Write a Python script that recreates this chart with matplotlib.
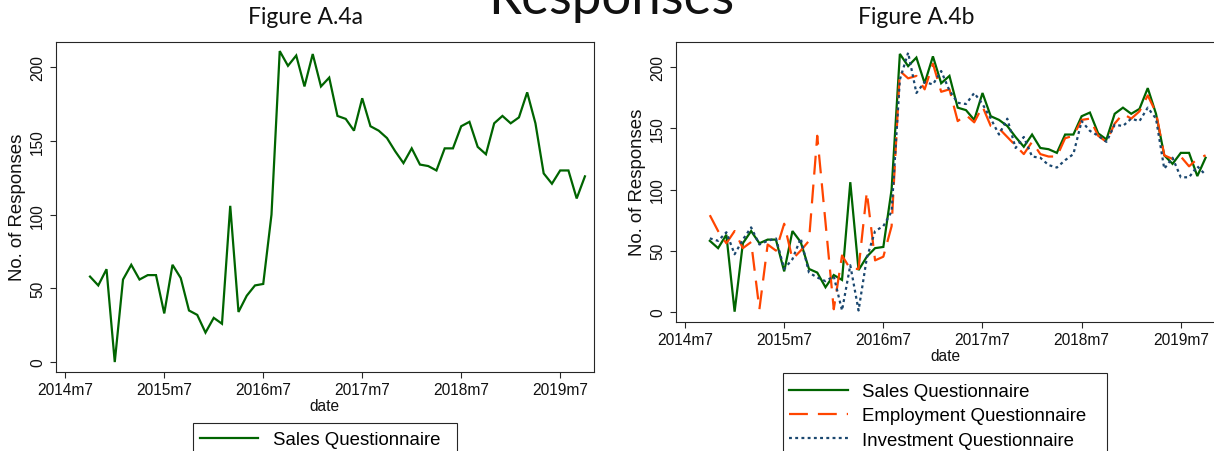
import numpy as np
import pandas as pd
import matplotlib
matplotlib.use("Agg")
import matplotlib.pyplot as plt
from matplotlib.patches import Rectangle

# ---------------- data ----------------
start_month = "2014-10"
end_month = "2019-10"
sales = [58, 52, 63, 0, 56, 66, 56, 59, 59, 33,
         66, 57, 35, 32, 20, 30, 26, 106, 34, 45,
         52, 53, 100, 211, 201, 208, 187, 209, 187, 193,
         167, 165, 157, 179, 160, 157, 152, 143, 135, 145,
         134, 133, 130, 145, 145, 160, 163, 146, 141, 162,
         167, 162, 166, 183, 162, 128, 121, 130, 130, 111, 126]
employment = [79, 66, 56, 66, 52, 57, 2, 55, 50, 72,
              43, 50, 58, 144, 73, 2, 46, 35, 35, 98,
              42, 45, 70, 197, 191, 193, 182, 203, 180, 182,
              156, 161, 155, 168, 152, 150, 143, 136, 129, 139,
              129, 127, 127, 142, 144, 157, 158, 144, 139, 154,
              162, 158, 164, 177, 163, 128, 125, 127, 119, 125, 128]
investment = [60, 58, 65, 47, 59, 69, 55, 58, 60, 35,
              43, 60, 32, 28, 25, 29, 1, 38, 1, 44,
              66, 70, 82, 190, 212, 179, 188, 186, 197, 181,
              171, 170, 179, 170, 158, 145, 158, 134, 143, 127,
              126, 120, 118, 124, 129, 156, 148, 144, 139, 153,
              152, 158, 156, 167, 158, 117, 126, 110, 110, 119, 112]
tick_labels = ["2014m7", "2015m7", "2016m7", "2017m7", "2018m7", "2019m7"]
y_ticks = [0, 50, 100, 150, 200]
series_names = ["Sales Questionnaire", "Employment Questionnaire", "Investment Questionnaire"]

# months as integer offsets from 2014m7
months = pd.period_range(start_month, end_month, freq="M")
x = np.array(months.year * 12 + months.month - (2014 * 12 + 7))
tick_pos = [int(t[:4]) * 12 + int(t[5:]) - (2014 * 12 + 7) for t in tick_labels]

# ---------------- style ----------------
plt.rcParams["font.family"] = ["Liberation Sans", "DejaVu Sans"]
GREEN = "#006400"
ORANGE = "#ff4500"
NAVY = "#1a476f"
FRAME = "#262626"
LW = 1.6

W, H = 1214, 452
fig = plt.figure(figsize=(W / 100, H / 100), dpi=100)
fig.patch.set_facecolor("white")


def px_axes(l, t, r, b):
    return [l / W, 1 - b / H, (r - l) / W, (b - t) / H]


ax1 = fig.add_axes(px_axes(55.7, 42.5, 594, 372.5))
ax2 = fig.add_axes(px_axes(675.7, 42.7, 1215.5, 322.7))

l_sales1, = ax1.plot(x, sales, color=GREEN, lw=LW, solid_joinstyle="miter")
l_sales2, = ax2.plot(x, sales, color=GREEN, lw=LW, solid_joinstyle="miter")
l_emp, = ax2.plot(x, employment, color=ORANGE, lw=LW, linestyle=(0, (8.5, 4.5)))
l_inv, = ax2.plot(x, investment, color=NAVY, lw=LW, linestyle=(0, (1.3, 1.5)))

ax1.set_xlim(-1.16, 64.1)
ax1.set_ylim(-6.4, 217.5)
ax2.set_xlim(-1.13, 64.2)
ax2.set_ylim(-8.2, 221)

for ax in (ax1, ax2):
    ax.set_xticks(tick_pos)
    ax.set_xticklabels(tick_labels)
    ax.set_yticks(y_ticks)
    ax.set_yticklabels([str(v) for v in y_ticks], rotation=90, va="center")
    ax.tick_params(axis="both", direction="out", length=4.6, width=0.8,
                   color=FRAME, labelsize=11.2, labelcolor="#111111")
    ax.tick_params(axis="x", pad=3)
    ax.tick_params(axis="y", pad=3)
    for s in ax.spines.values():
        s.set_color(FRAME)
        s.set_linewidth(0.8)
    ax.set_xlabel("date", fontsize=11.2, color="#111111")
    ax.set_ylabel("No. of Responses", fontsize=13.4, color="#111111")
    ax.xaxis.label.set_verticalalignment("center")
    ax.yaxis.label.set_horizontalalignment("center")
    ax.yaxis.label.set_verticalalignment("center")

# label positions (axes fractions)
ax1.xaxis.set_label_coords(0.5, (372.5 - 407) / 330)
ax1.yaxis.set_label_coords((17.5 - 55.7) / 538.3, 0.5)
ax2.xaxis.set_label_coords(0.5, (322.7 - 356.7) / 280)
ax2.yaxis.set_label_coords((638 - 675.7) / 539.8, 0.5)

# legends
fs_leg = 13.4
ax1.legend([l_sales1], [series_names[0]], loc="upper left",
           bbox_to_anchor=(200 / W, 1 - 432 / H), bbox_transform=fig.transFigure,
           frameon=False, borderpad=0, borderaxespad=0, fontsize=fs_leg,
           handlelength=58 / 18.6, handletextpad=14.7 / 18.6)
ax2.legend([l_sales2, l_emp, l_inv], series_names, loc="upper left",
           bbox_to_anchor=(789 / W, 1 - 384 / H), bbox_transform=fig.transFigure,
           frameon=False, borderpad=0, borderaxespad=0, fontsize=fs_leg,
           handlelength=59 / 18.6, handletextpad=13.5 / 18.6, labelspacing=0.39)

fig.add_artist(Rectangle((193.3 / W, 1 - 470 / H), (457 - 193.3) / W, (470 - 424.3) / H,
                         transform=fig.transFigure, fill=False, edgecolor=FRAME, lw=0.8))
fig.add_artist(Rectangle((783 / W, 1 - 470 / H), (1107 - 783) / W, (470 - 374) / H,
                         transform=fig.transFigure, fill=False, edgecolor=FRAME, lw=0.8))

# titles
fig.text(305 / W, 1 - 24 / H, "Figure A.4a", ha="center", va="baseline",
         fontsize=16.5, family=["Lato", "DejaVu Sans"], color="#111111")
fig.text(916 / W, 1 - 24 / H, "Figure A.4b", ha="center", va="baseline",
         fontsize=16.5, family=["Lato", "DejaVu Sans"], color="#111111")
fig.text(611 / W, 1 - 14 / H, "Responses", ha="center", va="baseline",
         fontsize=38, family=["Lato", "DejaVu Sans"], color="#111111")

fig.savefig("out.png", dpi=100, facecolor="white")
